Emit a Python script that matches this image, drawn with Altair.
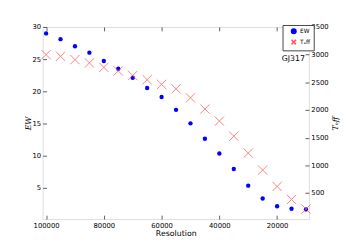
import altair as alt
import pandas as pd

resolution = [100000, 95000, 90000, 85000, 80000, 75000, 70000, 65000, 60000, 55000,
              50000, 45000, 40000, 35000, 30000, 25000, 20000, 15000, 10000]
ew = [29.0, 28.1, 27.0, 26.0, 24.7, 23.5, 22.1, 20.5, 19.1, 17.1,
      15.0, 12.6, 10.3, 7.9, 5.3, 3.3, 2.1, 1.7, 1.6]
teff = [3000, 2970, 2910, 2850, 2770, 2706, 2623, 2547, 2464, 2382,
        2220, 2018, 1800, 1527, 1222, 915, 620, 385, 211]
series_names = ["EW", "Teff"]
x_ticks = [20000, 40000, 60000, 80000, 100000]
ew_ticks = [5, 10, 15, 20, 25, 30]
teff_ticks = [500, 1000, 1500, 2000, 2500, 3000, 3500]

df_ew = pd.DataFrame({"Resolution": resolution, "value": ew, "series": "EW"})
df_teff = pd.DataFrame({"Resolution": resolution, "value": teff, "series": "Teff"})

TICK = dict(ticks=True, tickSize=4, offset=-4, tickColor="#333", tickWidth=0.8,
            grid=False, domain=False, labelColor="black", labelFont="DejaVu Sans",
            labelFontSize=7)

xscale = alt.Scale(domain=[9000, 101200], reverse=True, nice=False, zero=False)
xaxis = alt.Axis(values=x_ticks, title="Resolution", format="d",
                 labelPadding=3, titlePadding=1, titleFontSize=8,
                 titleColor="black", titleFontWeight="normal",
                 titleFont="DejaVu Sans", **TICK)
xaxis_top = alt.Axis(values=x_ticks, orient="top", labels=False, title=None, **TICK)

color_scale = alt.Scale(domain=series_names, range=["#0000ff", "#ff5555"])
shape_scale = alt.Scale(domain=series_names, range=["circle", "M-1,-1L1,1M1,-1L-1,1"])
legend = alt.Legend(title=None, orient="none", legendX=246, legendY=-2,
                    strokeColor="#444", padding=3, labelFontSize=6,
                    labelFont="DejaVu Sans", symbolSize=22, rowPadding=0,
                    symbolOffset=5, labelOffset=3,
                    labelExpr="datum.label == 'Teff' ? 'Tₑff' : datum.label",
                    fillColor="white")

ew_layer = alt.Chart(df_ew).mark_point(filled=True, size=20, opacity=1).encode(
    x=alt.X("Resolution:Q", scale=xscale, axis=xaxis),
    y=alt.Y("value:Q", scale=alt.Scale(domain=[0.1, 30], nice=False, zero=False),
            axis=alt.Axis(values=ew_ticks, title="EW", format="d",
                          labelPadding=2, titleFontSize=8, titleFont="DejaVu Serif",
                          titleFontStyle="italic", titleFontWeight="normal",
                          titleColor="black", titleX=-14, titleAngle=270, **TICK)),
    color=alt.Color("series:N", scale=color_scale, legend=legend),
    shape=alt.Shape("series:N", scale=shape_scale, legend=legend),
)

teff_layer = alt.Chart(df_teff).mark_point(filled=False, size=90, strokeWidth=1,
                                            opacity=0.75).encode(
    x=alt.X("Resolution:Q", scale=xscale, axis=xaxis_top),
    y=alt.Y("value:Q", scale=alt.Scale(domain=[30, 3500], nice=False, zero=False),
            axis=alt.Axis(orient="right", values=teff_ticks, format="d",
                          title="Tₑff", labelPadding=2, titleFontSize=8,
                          titleFont="DejaVu Serif", titleFontStyle="italic",
                          titleFontWeight="normal", titleColor="black",
                          titlePadding=12, titleAngle=270, **TICK)),
    color=alt.Color("series:N", scale=color_scale, legend=legend),
    shape=alt.Shape("series:N", scale=shape_scale, legend=legend),
)

label_layer = alt.Chart(pd.DataFrame({"t": ["GJ317"]})).mark_text(
    align="right", baseline="middle", fontSize=8, font="DejaVu Sans", color="black"
).encode(text="t:N", x=alt.value(269), y=alt.value(33))

chart = alt.layer(ew_layer, teff_layer, label_layer).resolve_scale(
    y="independent"
).resolve_axis(x="independent").properties(
    width=273, height=197,
    autosize=alt.AutoSizeParams(type="none"),
    padding={"left": 35.5, "top": 16.5, "right": 35, "bottom": 18},
).configure_view(stroke="#222", strokeWidth=1).configure(background="white")

chart.save("out.html", embed_options={"renderer": "svg", "actions": False})
